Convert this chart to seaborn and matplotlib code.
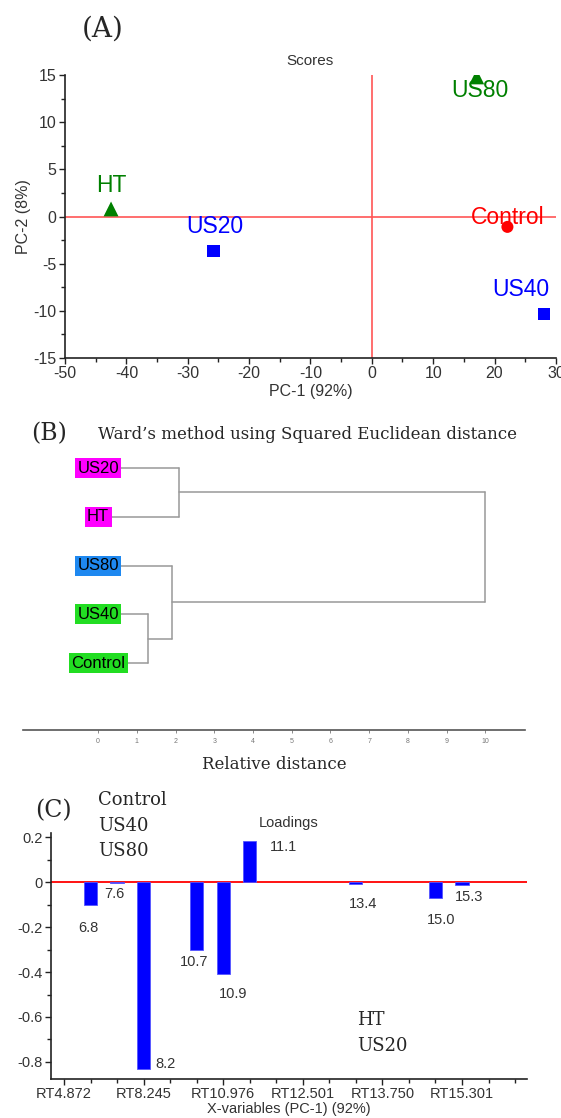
import numpy as np
import pandas as pd
import matplotlib
matplotlib.use("Agg")
import matplotlib.pyplot as plt
import seaborn as sns

# (A) PCA scores
samples = ["HT", "US20", "US80", "Control", "US40"]
pc1 = [-42.5, -25.8, 17.1, 22.1, 28.1]
pc2 = [0.8, -3.7, 14.8, -1.1, -10.3]

# (B) Ward dendrogram, leaves top to bottom and merges (left, right, distance)
leaves = ["US20", "HT", "US80", "US40", "Control"]
merges = [("US40", "Control", 1.28),
          ("US80", "US40+Control", 1.92),
          ("US20", "HT", 2.08),
          ("US20+HT", "US80+US40+Control", 10.0)]

# (C) PC-1 loadings (variable index on the RT axis)
peak_labels = ["6.8", "7.6", "8.2", "10.7", "10.9", "11.1", "13.4", "15.0", "15.3"]
peak_var = [1, 2, 3, 5, 6, 7, 11, 14, 15]
loadings = [-0.10, -0.002, -0.83, -0.30, -0.41, 0.182, -0.006, -0.069, -0.012]
rt_ticks = ["RT4.872", "RT8.245", "RT10.976", "RT12.501", "RT13.750", "RT15.301"]
n_vars = 18

sns.set_style("white")
plt.rcParams["font.family"] = ["Liberation Sans", "DejaVu Sans"]
plt.rcParams["axes.unicode_minus"] = False
SERIF = "DejaVu Serif"
GREY = "#333333"

fig = plt.figure(figsize=(5.61, 11.18), dpi=100)

# ---------------- (A) scores ----------------
axA = fig.add_axes([0.1159, 0.6798, 0.875, 0.2531])
colors = {"HT": "#008000", "US80": "#008000", "US20": "#0000ff",
          "US40": "#0000ff", "Control": "#ff0000"}
markers = {"HT": "^", "US80": "^", "US20": "s", "US40": "s", "Control": "o"}
msizes = {"HT": 115, "US80": 115, "US20": 75, "US40": 75, "Control": 75}
scores = pd.DataFrame({"sample": samples, "pc1": pc1, "pc2": pc2})
axA.axhline(0, color="#ff5555", lw=1.2, zorder=1)
axA.axvline(0, color="#ff5555", lw=1.2, zorder=1)
sns.scatterplot(data=scores, x="pc1", y="pc2", hue="sample", style="sample",
                size="sample", sizes=msizes, palette=colors, markers=markers,
                linewidth=0, legend=False, ax=axA, zorder=3)
label_offsets = {"HT": (0, 17), "US20": (1, 18), "US80": (2, -10),
                 "Control": (0, 6.5), "US40": (-17, 17.5)}
for s, x, y in zip(samples, pc1, pc2):
    axA.annotate(s, (x, y), xytext=label_offsets[s], textcoords="offset points",
                 ha="center", va="center", fontsize=16.5, color=colors[s], zorder=2)
axA.set_xlim(-50, 30)
axA.set_ylim(-15, 15)
axA.set_xticks(np.arange(-50, 31, 10))
axA.set_xticks(np.arange(-45, 30, 10), minor=True)
axA.set_yticks(np.arange(-15, 16, 5))
axA.set_yticks(np.arange(-12.5, 15, 5), minor=True)
axA.set_xlabel("PC-1 (92%)", fontsize=11.5, color=GREY, labelpad=2)
axA.set_ylabel("PC-2 (8%)", fontsize=11.5, color=GREY, labelpad=2)
axA.set_title("Scores", fontsize=11, color=GREY, pad=7)
axA.tick_params(which="major", direction="out", length=4, width=1, colors="#222222",
                labelsize=11.5, labelcolor=GREY, bottom=True, left=True, pad=2)
axA.tick_params(which="minor", direction="out", length=3, width=1, colors="#222222",
                bottom=True, left=True)
sns.despine(ax=axA)
for sp in ["left", "bottom"]:
    axA.spines[sp].set_color("#222222")
    axA.spines[sp].set_linewidth(1.2)
fig.text(103 / 561, 1 - 29 / 1118, "(A)", family=SERIF, fontsize=20,
         ha="center", va="center")

# ---------------- (B) dendrogram ----------------
axB = fig.add_axes([0.041, 0.3470, 0.895, 0.2540])
ypos = {name: len(leaves) - 1 - i for i, name in enumerate(leaves)}
xpos = {name: 0.0 for name in leaves}
for left, right, h in merges:
    for node in (left, right):
        axB.plot([xpos[node], h], [ypos[node], ypos[node]], color="#999999", lw=1.1, zorder=1)
    axB.plot([h, h], [ypos[left], ypos[right]], color="#999999", lw=1.1, zorder=1)
    new = left + "+" + right
    ypos[new] = (ypos[left] + ypos[right]) / 2
    xpos[new] = h
box_colors = {"US20": "#ff00ff", "HT": "#ff00ff", "US80": "#1e88f0",
              "US40": "#22dd22", "Control": "#22dd22"}
for name in leaves:
    axB.text(0, ypos[name], name, ha="center", va="center", fontsize=12, color="black",
             zorder=3, bbox=dict(boxstyle="square,pad=0.15", fc=box_colors[name], ec="none"))
axB.set_xlim(-1.94, 11.03)
axB.set_ylim(-1.37, 4.45)
axB.set_xticks(range(0, 11))
axB.set_yticks([])
axB.tick_params(axis="x", direction="out", length=2, width=0.6, colors="#777777",
                labelsize=5, pad=4, bottom=True)
sns.despine(ax=axB, left=True)
axB.spines["bottom"].set_color("#555555")
axB.spines["bottom"].set_linewidth(1.2)
axB.set_xlabel("Relative distance", family=SERIF, fontsize=12, labelpad=8)
fig.text(49 / 561, 1 - 434 / 1118, "(B)", family=SERIF, fontsize=17,
         ha="center", va="center")
fig.text(98 / 561, 1 - 435 / 1118, "Ward\u2019s method using Squared Euclidean distance",
         family=SERIF, fontsize=12, ha="left", va="center")

# ---------------- (C) loadings ----------------
axC = fig.add_axes([0.0904, 0.0351, 0.849, 0.2198])
axC.axhline(0, color="#ff0000", lw=1.3, zorder=1)
sns.barplot(x=peak_var, y=loadings, native_scale=True, width=0.5, color="#0000ff",
            saturation=1, edgecolor="#5555ff", linewidth=0.6, ax=axC, zorder=2)
peak_offsets = [(-1.5, -17), (-2, -8.5), (16, 3), (-2, -9), (7, -14),
                (24, -4), (5, -15), (4, -16), (5, -9)]
for lab, v, val, off in zip(peak_labels, peak_var, loadings, peak_offsets):
    axC.annotate(lab, (v, val), xytext=off, textcoords="offset points",
                 ha="center", va="center", fontsize=10.5, color=GREY)
axC.set_xlim(-0.5, 17.45)
axC.set_ylim(-0.875, 0.219)
axC.set_xticks(np.arange(0, n_vars, 3))
axC.set_xticklabels(rt_ticks)
axC.set_xticks(np.arange(n_vars), minor=True)
axC.set_yticks([0.2, 0, -0.2, -0.4, -0.6, -0.8])
axC.set_yticklabels(["0.2", "0", "-0.2", "-0.4", "-0.6", "-0.8"])
axC.set_yticks(np.arange(-0.7, 0.2, 0.2), minor=True)
axC.tick_params(which="major", direction="out", length=4, width=1, colors="#222222",
                labelsize=10.5, labelcolor=GREY, bottom=True, left=True, pad=2)
axC.tick_params(which="minor", direction="out", length=3, width=1, colors="#222222",
                bottom=True, left=True)
axC.set_xlabel("X-variables (PC-1) (92%)", fontsize=10.5, color=GREY, labelpad=1)
axC.set_ylabel("")
axC.set_title("Loadings", fontsize=10.5, color=GREY, pad=4)
sns.despine(ax=axC)
for sp in ["left", "bottom"]:
    axC.spines[sp].set_color("#222222")
    axC.spines[sp].set_linewidth(1.2)
fig.text(53 / 561, 1 - 811 / 1118, "(C)", family=SERIF, fontsize=17,
         ha="center", va="center")
fig.text(98 / 561, 1 - 791 / 1118, "Control\nUS40\nUS80", family=SERIF, fontsize=13,
         ha="left", va="top", linespacing=1.55)
fig.text(357 / 561, 1 - 1011 / 1118, "HT\nUS20", family=SERIF, fontsize=13,
         ha="left", va="top", linespacing=1.55)

fig.savefig("out.png", dpi=100)
